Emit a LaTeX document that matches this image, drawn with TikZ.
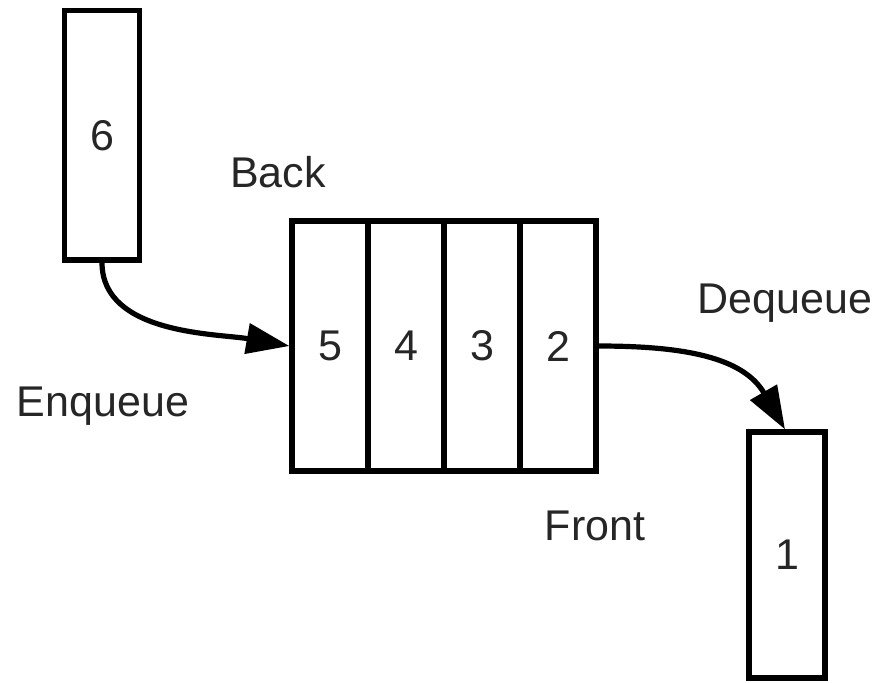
\documentclass[tikz,border=0pt]{standalone}
\usepackage{fontspec}
\setmainfont{Liberation Sans}
\usetikzlibrary{arrows.meta}
\begin{document}
\begin{tikzpicture}[x=0.5pt,y=-0.5pt,
  every node/.style={font=\fontsize{21.5}{26}\selectfont, text=black!85},
  cell/.style={draw=black, line width=2.6pt, rectangle, inner sep=0pt, minimum width=38pt, minimum height=125pt},
  itembox/.style={draw=black, line width=2.6pt, rectangle, inner sep=0pt, minimum width=37.5pt},
  lbl/.style={anchor=base, inner sep=0pt},
  flow/.style={line width=2.6pt, -{Triangle[length=21.5pt,width=15pt]}}]
\useasboundingbox (0,0) rectangle (884,682);
\node[itembox, minimum height=124.75pt] (six) at (102,135.25) {6};
\node[cell] (c5) at (330,346) {5};
\node[cell] (c4) at (406,346) {4};
\node[cell] (c3) at (482,346) {3};
\node[cell] (c2) at (558,346) {2};
\node[itembox, minimum width=38pt, minimum height=123pt] (one) at (787,555) {1};
\node[lbl] (back) at (278,187) {Back};
\node[lbl] (enq) at (103,416) {Enqueue};
\node[lbl] (deq) at (785,313) {Dequeue};
\node[lbl] (front) at (595,540) {Front};
\draw[flow] (six.south) to[out=-90, in=170, looseness=0.9] (c5.west);
\draw[flow] (c2.east) to[out=0, in=120, looseness=1.05] ([xshift=-1pt]one.north);
\end{tikzpicture}
\end{document}
